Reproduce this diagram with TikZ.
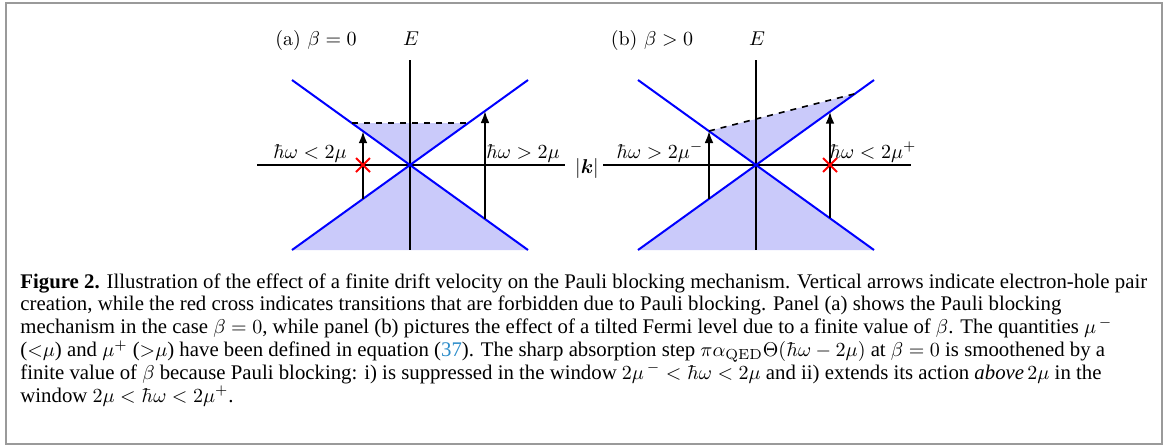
\documentclass[tikz,border=0pt]{standalone}
\usepackage{amsmath}
\usepackage{bm}
\usepackage{fontspec}
\newfontfamily\capfont{Liberation Serif}
\usetikzlibrary{arrows.meta,shapes.misc}
\definecolor{bandblue}{HTML}{0000FF}
\definecolor{bandfill}{HTML}{CACAFA}
\definecolor{framegray}{HTML}{9A9A9A}
\definecolor{linkblue}{HTML}{2C8CC9}

\begin{document}
\begin{tikzpicture}[x=0.5pt, y=-0.5pt,
  cone/.style={bandblue, line width=1pt},
  axis/.style={black, line width=1pt},
  transition/.style={-{Latex[length=6pt,width=4.4pt]}, line width=1pt},
  blocked/.style={cross out, draw=red, line width=1pt, minimum size=6pt, inner sep=0pt},
  fermi/.style={dashed, line width=0.8pt}]
  \useasboundingbox (0,0) rectangle (1165,446);
  \draw[framegray, line width=1.1pt] (6,3) rectangle (1162,444);
  % (a) occupied states up to the flat Fermi level
  \begin{scope}[shift={(410,165)}]
    \coordinate (fa1) at (-58,-42);
    \coordinate (fa2) at (58,-42);
    \fill[bandfill] (0,0) -- (fa1) -- (fa2) -- cycle;
  \end{scope}
  % (b) tilted Fermi level
  \begin{scope}[shift={(756,165)}]
    \coordinate (fb1) at (-47,-34);
    \coordinate (fb2) at (99,-71.3);
    \fill[bandfill] (0,0) -- (fb1) -- (fb2) -- cycle;
  \end{scope}
  \foreach \cx/\p in {410/a,756/b} {
    \begin{scope}[shift={(\cx,165)}]
      \fill[bandfill] (0,0) -- (-118,85) -- (118,85) -- cycle;
      \draw[axis] (-153,0) -- (155,0);
      \draw[axis] (0,-105) -- (0,85);
      \draw[cone] (-118,-85) -- (118,85);
      \draw[cone] (-118,85) -- (118,-85);
      \node[anchor=base] (E\p) at (1,-120) {$E$};
    \end{scope}
  }
  \draw[fermi] (fa1) -- (fa2);
  \draw[fermi] (fb1) -- (fb2);
  % transitions
  \begin{scope}[shift={(410,165)}]
    \coordinate (ta1) at (-47,33.8);
    \coordinate (ta2) at (-47,-33.8);
    \coordinate (ta3) at (75,54);
    \coordinate (ta4) at (75,-54);
    \draw[transition] (ta1) -- (ta2);
    \draw[transition] (ta3) -- (ta4);
    \node[blocked] (xa) at (-47,0) {};
  \end{scope}
  \begin{scope}[shift={(756,165)}]
    \coordinate (tb1) at (-47,33.8);
    \coordinate (tb2) at (fb1);
    \coordinate (tb3) at (74,53.3);
    \coordinate (tb4) at (74,-53.3);
    \draw[transition] (tb1) -- (tb2);
    \draw[transition] (tb3) -- (tb4);
    \node[blocked] (xb) at (74,0) {};
  \end{scope}
  % labels
  \node[anchor=base] (titlea) at (316,45) {(a) $\beta=0$};
  \node[anchor=base] (titleb) at (652,45) {(b) $\beta>0$};
  \node[anchor=base] (wa1) at (310,158) {$\hbar\omega<2\mu$};
  \node[anchor=base] (wa2) at (523,158) {$\hbar\omega>2\mu$};
  \node[anchor=base] (wb1) at (660,158) {$\hbar\omega>2\mu^-$};
  \node[anchor=base] (wb2) at (873,158) {$\hbar\omega<2\mu^+$};
  \node[inner sep=1pt] (k) at (587,168) {$|\bm{k}|$};
  % caption
  \node[anchor=base west, align=left, inner sep=0pt,
    font=\capfont\fontsize{10.4}{11.4}\selectfont] (caption) at (20,402)
    {\textbf{Figure 2.} Illustration of the effect of a finite drift velocity on the Pauli blocking mechanism. Vertical arrows indicate electron-hole pair\\
     creation, while the red cross indicates transitions that are forbidden due to Pauli blocking. Panel (a) shows the Pauli blocking\\
     mechanism in the case $\beta=0$, while panel (b) pictures the effect of a tilted Fermi level due to a finite value of $\beta$. The quantities $\mu^{\,-}$\\
     (${<}\mu$) and $\mu^+$ (${>}\mu$) have been defined in equation ({\color{linkblue}37}). The sharp absorption step $\pi\alpha_{\mathrm{QED}}\Theta(\hbar\omega-2\mu)$ at $\beta=0$ is smoothened by a\\
     finite value of $\beta$ because Pauli blocking: i) is suppressed in the window $2\mu^{\,-}<\hbar\omega<2\mu$ and ii) extends its action \textit{above}$\,2\mu$ in the\\
     window $2\mu<\hbar\omega<2\mu^+$.};
\end{tikzpicture}
\end{document}
